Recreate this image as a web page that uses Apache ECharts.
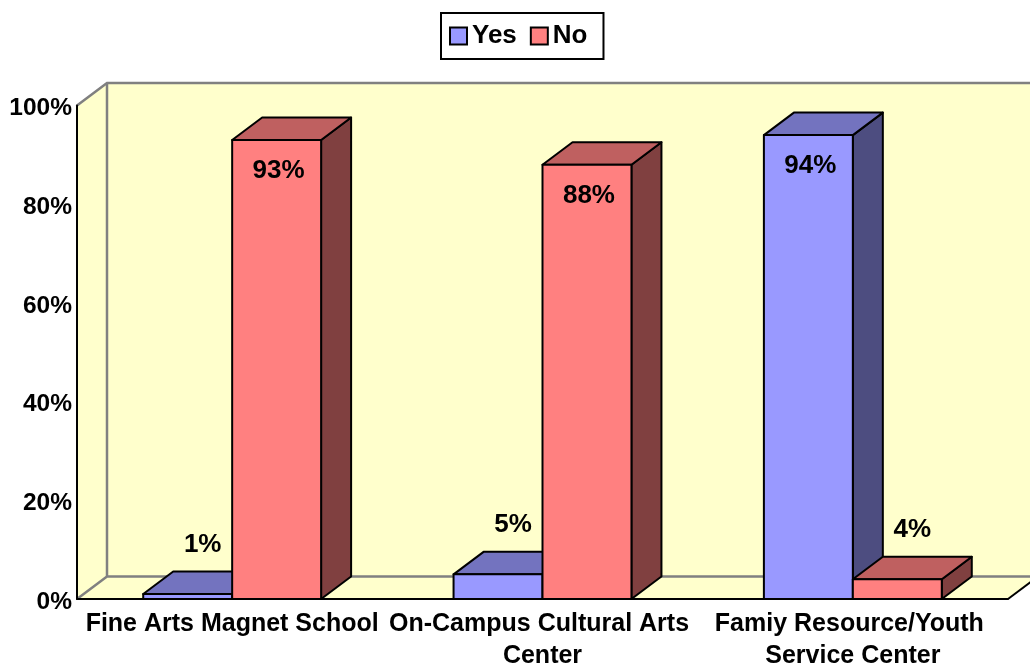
<!DOCTYPE html>
<html>
<head>
<meta charset="utf-8">
<script src="https://cdn.jsdelivr.net/npm/echarts@6/dist/echarts.min.js"></script>
<style>
html,body{margin:0;padding:0;background:#fff;}
#chart{width:1030px;height:663px;}
</style>
</head>
<body>
<div id="chart"></div>
<script>
var categories = ['Fine Arts Magnet School', 'On-Campus Cultural Arts Center', 'Famiy Resource/Youth Service Center'];
var yesValues = [1, 5, 94];
var noValues = [93, 88, 4];
var yTicks = [0, 20, 40, 60, 80, 100];

var FONT = '"Liberation Sans", Arial, sans-serif';
var DX = 30, DY = -22.5; // depth of the 3d box
var faces = {
  Yes: { front: '#9999FF', top: '#7373BF', side: '#4D4D80' },
  No: { front: '#FF8080', top: '#BF6060', side: '#804040' }
};

function barRenderer(name, left) {
  return function (params, api) {
    var cat = api.value(0), v = api.value(1);
    var base = api.coord([cat, 0]);
    var top = api.coord([cat, v]);
    var band = api.size([1, 0])[0];
    var w = band * 0.2866;
    var x0 = left ? base[0] - w : base[0];
    var x1 = x0 + w;
    var y0 = base[1], y1 = top[1];
    var c = faces[name];
    var st = { stroke: '#000', lineWidth: 2, lineJoin: 'round' };
    var kids = [
      { type: 'polygon', shape: { points: [[x1, y1], [x1 + DX, y1 + DY], [x1 + DX, y0 + DY], [x1, y0]] },
        style: Object.assign({ fill: c.side }, st) },
      { type: 'polygon', shape: { points: [[x0, y1], [x0 + DX, y1 + DY], [x1 + DX, y1 + DY], [x1, y1]] },
        style: Object.assign({ fill: c.top }, st) },
      { type: 'rect', shape: { x: x0, y: y1, width: w, height: y0 - y1 },
        style: Object.assign({ fill: c.front }, st) }
    ];
    var lx, ly;
    if (v >= 50) { lx = (x0 + x1) / 2 + 2; ly = y1 + 31; }
    else { lx = (x0 + x1) / 2 + DX / 2; ly = y1 + DY - 27; }
    kids.push({ type: 'text', x: lx, y: ly, style: {
      text: v + '%', fill: '#000', font: 'bold 26px ' + FONT, align: 'center', verticalAlign: 'middle' } });
    return { type: 'group', children: kids };
  };
}

function wallRenderer(params, api) {
  var cs = params.coordSys;
  var l = cs.x, r = cs.x + cs.width, t = cs.y, b = cs.y + cs.height;
  var yellow = '#FFFFCC', gray = '#808080';
  return { type: 'group', children: [
    { type: 'polygon', shape: { points: [[l + DX, t + DY], [r + DX, t + DY], [r + DX, b + DY], [l + DX, b + DY]] },
      style: { fill: yellow } },
    { type: 'polygon', shape: { points: [[l, t], [l + DX, t + DY], [l + DX, b + DY], [l, b]] },
      style: { fill: yellow } },
    { type: 'polygon', shape: { points: [[l, b], [l + DX, b + DY], [r + DX, b + DY], [r, b]] },
      style: { fill: yellow } },
    { type: 'polyline', shape: { points: [[l, t], [l + DX, t + DY], [r + DX, t + DY]] },
      style: { stroke: gray, lineWidth: 2.5, fill: null } },
    { type: 'polyline', shape: { points: [[l, b], [l + DX, b + DY], [r + DX, b + DY]] },
      style: { stroke: gray, lineWidth: 2.5, fill: null } },
    { type: 'line', shape: { x1: l + DX, y1: t + DY, x2: l + DX, y2: b + DY },
      style: { stroke: gray, lineWidth: 2.5 } },
    { type: 'line', shape: { x1: r, y1: b, x2: r + DX, y2: b + DY },
      style: { stroke: '#000', lineWidth: 2 } }
  ] };
}

var chart = echarts.init(document.getElementById('chart'));
chart.setOption({
  backgroundColor: '#fff',
  animation: false,
  textStyle: { fontFamily: FONT },
  legend: {
    data: ['Yes', 'No'],
    left: 441, top: 13,
    padding: [10, 16, 10, 8],
    itemGap: 13,
    itemWidth: 17, itemHeight: 17,
    icon: 'rect',
    borderColor: '#000', borderWidth: 2,
    itemStyle: { borderColor: '#000', borderWidth: 2 },
    textStyle: { fontSize: 26, fontWeight: 'bold', color: '#000', fontFamily: FONT, padding: [3, 0, 0, 0] }
  },
  grid: { left: 77, right: 22, top: 105.5, bottom: 64, outerBoundsMode: 'none' },
  xAxis: {
    type: 'category', data: categories, z: 2,
    axisLine: { lineStyle: { color: '#000', width: 2 } },
    axisTick: { show: false },
    axisLabel: {
      interval: 0, margin: 9, width: 312, overflow: 'break', lineHeight: 32,
      fontSize: 25, fontWeight: 'bold', color: '#000', fontFamily: FONT
    }
  },
  yAxis: {
    type: 'value', min: yTicks[0], max: yTicks[yTicks.length - 1], interval: 20, z: 2,
    axisLine: { show: true, lineStyle: { color: '#000', width: 2 } },
    axisTick: { show: false },
    splitLine: { show: false },
    axisLabel: {
      formatter: '{v|{value}%}', margin: 5,
      rich: { v: { padding: [6, 0, 0, 0], fontSize: 24.5, fontWeight: 'bold', color: '#000', fontFamily: FONT } }
    }
  },
  series: [
    { type: 'custom', name: 'walls', z: 1, silent: true, renderItem: wallRenderer, data: [[0, 0]] },
    { type: 'custom', name: 'Yes', z: 3, renderItem: barRenderer('Yes', true),
      itemStyle: { color: faces.Yes.front },
      data: yesValues.map(function (v, i) { return [i, v]; }) },
    { type: 'custom', name: 'No', z: 3, renderItem: barRenderer('No', false),
      itemStyle: { color: faces.No.front },
      data: noValues.map(function (v, i) { return [i, v]; }) }
  ]
});
</script>
</body>
</html>
